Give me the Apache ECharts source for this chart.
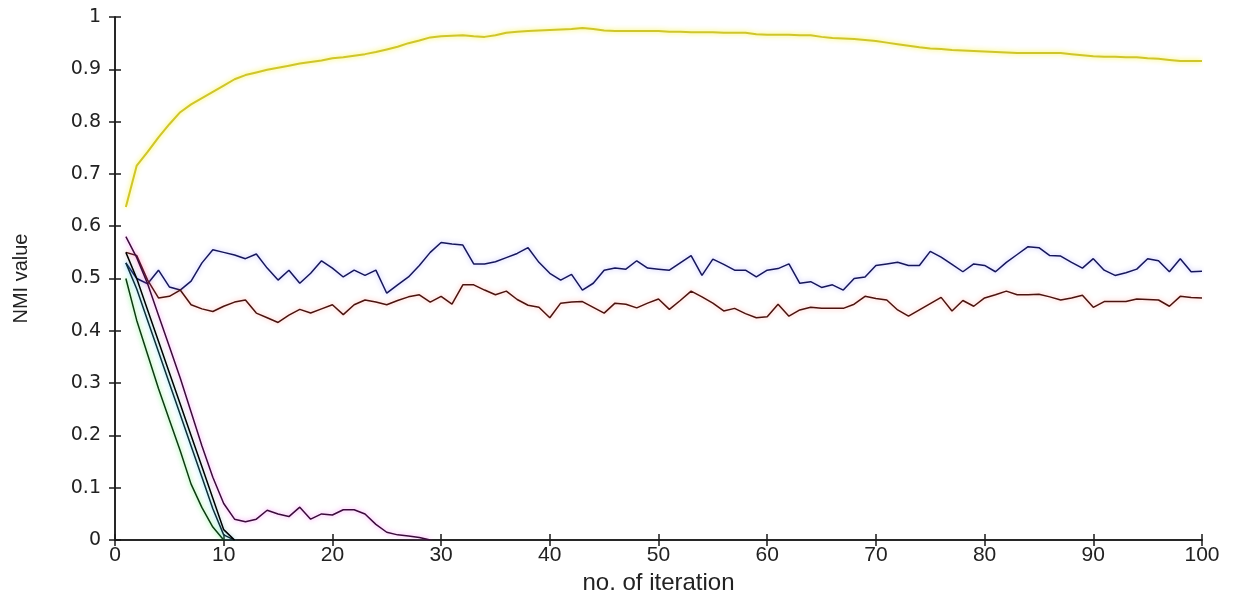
<!DOCTYPE html>
<html>
<head>
<meta charset="utf-8">
<script src="https://cdn.jsdelivr.net/npm/echarts@6/dist/echarts.min.js"></script>
<style>
  html, body { margin: 0; padding: 0; background: #ffffff; }
  #chart { width: 1237px; height: 600px; }
</style>
</head>
<body>
<div id="chart"></div>
<script>
// NMI value per iteration (iterations start at 1)
const xTicks = [0, 10, 20, 30, 40, 50, 60, 70, 80, 90, 100];
const yTicks = [0, 0.1, 0.2, 0.3, 0.4, 0.5, 0.6, 0.7, 0.8, 0.9, 1];

const yellowSeries = [
  0.637, 0.716, 0.742, 0.770, 0.795, 0.818, 0.833, 0.845, 0.857, 0.869,
  0.881, 0.889, 0.894, 0.899, 0.903, 0.907, 0.911, 0.914, 0.917, 0.921,
  0.923, 0.926, 0.929, 0.933, 0.938, 0.943, 0.950, 0.955, 0.961, 0.963,
  0.964, 0.965, 0.963, 0.962, 0.965, 0.970, 0.972, 0.973, 0.974, 0.975,
  0.976, 0.977, 0.979, 0.977, 0.974, 0.973, 0.973, 0.973, 0.973, 0.973,
  0.972, 0.972, 0.971, 0.971, 0.971, 0.970, 0.970, 0.970, 0.967, 0.966,
  0.966, 0.966, 0.965, 0.965, 0.962, 0.960, 0.959, 0.958, 0.956, 0.954,
  0.951, 0.948, 0.945, 0.942, 0.940, 0.939, 0.937, 0.936, 0.935, 0.934,
  0.933, 0.932, 0.931, 0.931, 0.931, 0.931, 0.931, 0.929, 0.927, 0.925,
  0.924, 0.924, 0.923, 0.923, 0.921, 0.920, 0.918, 0.916, 0.916, 0.916
];

const blueSeries = [
  0.530, 0.500, 0.490, 0.516, 0.484, 0.478, 0.495, 0.530, 0.555, 0.550,
  0.545, 0.538, 0.547, 0.520, 0.497, 0.516, 0.491, 0.510, 0.534, 0.520,
  0.503, 0.516, 0.506, 0.516, 0.472, 0.488, 0.503, 0.525, 0.550, 0.569,
  0.566, 0.564, 0.528, 0.528, 0.532, 0.540, 0.548, 0.559, 0.531, 0.510,
  0.497, 0.508, 0.478, 0.491, 0.516, 0.520, 0.518, 0.534, 0.520, 0.518,
  0.516, 0.530, 0.544, 0.506, 0.537, 0.527, 0.516, 0.516, 0.503, 0.516,
  0.519, 0.528, 0.491, 0.494, 0.483, 0.488, 0.478, 0.500, 0.503, 0.525,
  0.528, 0.531, 0.525, 0.525, 0.552, 0.541, 0.527, 0.513, 0.528, 0.525,
  0.513, 0.531, 0.546, 0.561, 0.559, 0.544, 0.543, 0.531, 0.520, 0.538,
  0.516, 0.506, 0.511, 0.518, 0.538, 0.534, 0.513, 0.538, 0.513, 0.514
];

const redSeries = [
  0.550, 0.544, 0.497, 0.463, 0.466, 0.478, 0.450, 0.442, 0.437, 0.447,
  0.455, 0.459, 0.434, 0.425, 0.416, 0.430, 0.441, 0.434, 0.442, 0.450,
  0.431, 0.450, 0.459, 0.455, 0.450, 0.458, 0.465, 0.469, 0.455, 0.466,
  0.451, 0.488, 0.488, 0.478, 0.469, 0.476, 0.460, 0.449, 0.445, 0.425,
  0.453, 0.455, 0.456, 0.445, 0.434, 0.453, 0.451, 0.444, 0.453, 0.461,
  0.441, 0.458, 0.476, 0.465, 0.453, 0.438, 0.443, 0.433, 0.425, 0.427,
  0.451, 0.428, 0.440, 0.445, 0.443, 0.443, 0.443, 0.451, 0.466, 0.462,
  0.459, 0.440, 0.428, 0.440, 0.452, 0.464, 0.438, 0.458, 0.447, 0.463,
  0.469, 0.476, 0.469, 0.469, 0.470, 0.465, 0.459, 0.463, 0.468, 0.445,
  0.456, 0.456, 0.456, 0.461, 0.460, 0.459, 0.447, 0.466, 0.464, 0.463
];

const greenSeries = [0.500, 0.420, 0.355, 0.290, 0.230, 0.171, 0.107, 0.062, 0.025, 0.000];
const blackSeries = [0.550, 0.500, 0.440, 0.380, 0.320, 0.260, 0.200, 0.140, 0.080, 0.020, 0.000];
const cyanSeries  = [0.530, 0.480, 0.420, 0.360, 0.300, 0.240, 0.180, 0.120, 0.060, 0.010, 0.000];
const magentaSeries = [
  0.580, 0.540, 0.490, 0.430, 0.370, 0.310, 0.245, 0.180, 0.120, 0.070,
  0.040, 0.035, 0.040, 0.057, 0.050, 0.045, 0.063, 0.040, 0.050, 0.048,
  0.058, 0.058, 0.050, 0.030, 0.015, 0.010, 0.008, 0.005, 0.000
];

function pairs(values) {
  return values.map((v, k) => [k + 1, v]);
}

function lineSeries(name, values, core, halo, width) {
  return {
    name: name,
    type: 'line',
    data: pairs(values),
    showSymbol: false,
    symbol: 'none',
    smooth: false,
    animation: false,
    lineStyle: {
      color: core,
      width: width,
      shadowColor: halo,
      shadowBlur: 5
    },
    z: 3
  };
}

const labelFont = '"Liberation Sans", Arial, sans-serif';

const chart = echarts.init(document.getElementById('chart'), null, { renderer: 'canvas' });

const axisLineStyle = { color: '#1a1a1a', width: 1.5 };

chart.setOption({
  backgroundColor: '#ffffff',
  animation: false,
  grid: { left: 115, right: 35, top: 17, bottom: 53, containLabel: false },
  xAxis: [
    {
      type: 'value',
      min: xTicks[0],
      max: xTicks[xTicks.length - 1],
      interval: 10,
      position: 'bottom',
      name: 'no. of iteration',
      nameLocation: 'middle',
      nameGap: 29,
      nameTextStyle: { fontFamily: labelFont, fontSize: 24, color: '#222' },
      axisLine: { show: true, lineStyle: axisLineStyle },
      axisTick: { show: true, inside: true, length: 6, lineStyle: axisLineStyle },
      axisLabel: { fontFamily: labelFont, fontSize: 21, color: '#222', margin: 5 },
      splitLine: { show: false }
    },
    {
      type: 'value',
      min: xTicks[0],
      max: xTicks[xTicks.length - 1],
      interval: 10,
      position: 'top',
      axisLine: { show: true, lineStyle: axisLineStyle },
      axisTick: { show: true, inside: true, length: 6, lineStyle: axisLineStyle },
      axisLabel: { show: false },
      splitLine: { show: false }
    }
  ],
  yAxis: [
    {
      type: 'value',
      min: yTicks[0],
      max: yTicks[yTicks.length - 1],
      interval: 0.1,
      position: 'left',
      name: 'NMI value',
      nameLocation: 'middle',
      nameGap: 84,
      nameRotate: 90,
      nameTextStyle: { fontFamily: labelFont, fontSize: 20, color: '#222' },
      axisLine: { show: true, lineStyle: axisLineStyle },
      axisTick: { show: true, inside: true, length: 6, lineStyle: axisLineStyle },
      axisLabel: {
        fontFamily: '"DejaVu Sans", sans-serif',
        fontSize: 19,
        color: '#222',
        margin: 14,
        formatter: v => (Math.round(v * 10) / 10).toString()
      },
      splitLine: { show: false }
    },
    {
      type: 'value',
      min: yTicks[0],
      max: yTicks[yTicks.length - 1],
      interval: 0.1,
      position: 'right',
      axisLine: { show: true, lineStyle: axisLineStyle },
      axisTick: { show: true, inside: true, length: 6, lineStyle: axisLineStyle },
      axisLabel: { show: false },
      splitLine: { show: false }
    }
  ],
  series: [
    lineSeries('yellow', yellowSeries, '#cfc62c', 'rgba(245,240,40,0.9)', 2),
    lineSeries('blue', blueSeries, '#16165a', 'rgba(90,90,255,0.45)', 1.5),
    lineSeries('red', redSeries, '#4a1410', 'rgba(255,80,60,0.45)', 1.5),
    lineSeries('green', greenSeries, '#0e3a12', 'rgba(40,230,60,0.7)', 1.5),
    lineSeries('cyan', cyanSeries, '#10303a', 'rgba(40,220,240,0.7)', 1.5),
    lineSeries('magenta', magentaSeries, '#3a0c3a', 'rgba(240,60,240,0.6)', 1.5),
    lineSeries('black', blackSeries, '#000000', 'rgba(0,0,0,0.2)', 1.5)
  ]
});
</script>
</body>
</html>
